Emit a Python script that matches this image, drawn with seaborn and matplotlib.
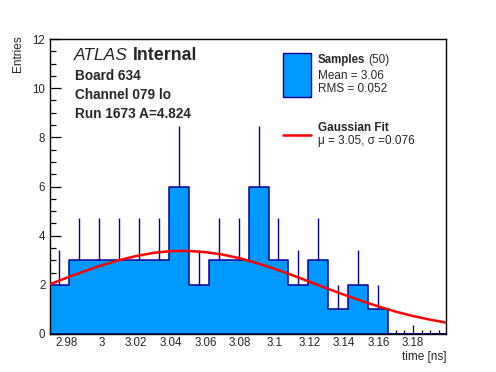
import numpy as np
import pandas as pd
import matplotlib
matplotlib.use("Agg")
import matplotlib.pyplot as plt
from matplotlib.patches import Rectangle
from matplotlib.lines import Line2D
from matplotlib.ticker import MultipleLocator, FormatStrFormatter
import seaborn as sns

# histogram: 20 bins between hist_lo and hist_hi
hist_lo, hist_hi = 2.97, 3.20
counts = [2, 3, 3, 3, 3, 3, 6, 2, 3, 3, 6, 3, 2, 3, 1, 2, 1, 0, 0, 0]

# gaussian fit curve
fit_x = [2.97, 2.98, 2.99, 3.00, 3.01, 3.02, 3.03, 3.04, 3.05, 3.06, 3.07, 3.08,
         3.09, 3.10, 3.11, 3.12, 3.13, 3.14, 3.15, 3.16, 3.17, 3.18, 3.19, 3.20]
fit_y = [2.02, 2.29, 2.55, 2.79, 3.00, 3.17, 3.30, 3.37, 3.38, 3.33, 3.23, 3.08,
         2.88, 2.65, 2.40, 2.13, 1.86, 1.60, 1.35, 1.12, 0.91, 0.73, 0.58, 0.45]

header = ["Board 634", "Channel 079 lo", "Run 1673 A=4.824"]
stats = ["Mean = 3.06", "RMS = 0.052"]
fit_label = "\u03bc = 3.05, \u03c3 =0.076"

FILL = "#0099ff"
EDGE = "#000099"
W, H = 496, 372

sns.set_style("white")
plt.rcParams['font.family'] = ['Liberation Sans', 'DejaVu Sans']

fig = plt.figure(figsize=(W / 100, H / 100), dpi=100)
ax = fig.add_axes([49.5 / W, 1 - 334 / H, (446 - 49.5) / W, (334 - 39) / H])

edges = np.linspace(hist_lo, hist_hi, len(counts) + 1)
df = pd.DataFrame({"t": 0.5 * (edges[:-1] + edges[1:]), "n": counts})

sns.histplot(data=df, x="t", weights="n", bins=edges.tolist(), element="step", fill=True,
             facecolor=FILL, edgecolor=EDGE, linewidth=1.1, alpha=1, ax=ax)

# error bars (upper part visible above the fill)
nz = df[df["n"] > 0]
ax.vlines(nz["t"], nz["n"], nz["n"] + np.sqrt(nz["n"]), color=EDGE, lw=1.0, zorder=3)

sns.lineplot(x=fit_x, y=fit_y, color="red", lw=1.8, ax=ax, zorder=4)

ax.set_xlim(hist_lo, hist_hi - 0.001)
ax.set_ylim(0, 12)
ax.set_xlabel("")
ax.set_ylabel("")
ax.xaxis.set_major_locator(MultipleLocator(0.02))
ax.xaxis.set_minor_locator(MultipleLocator(0.005))
ax.xaxis.set_major_formatter(plt.FuncFormatter(lambda v, _: f"{v:g}"))
ax.yaxis.set_major_locator(MultipleLocator(2))
ax.yaxis.set_minor_locator(MultipleLocator(0.5))
ax.yaxis.set_major_formatter(FormatStrFormatter("%d"))
ax.tick_params(which="both", direction="in", bottom=True, left=True, top=False, right=False,
               labelsize=8.3, color="black", width=0.9)
ax.tick_params(axis="x", which="major", length=6.5, pad=2.5)
ax.tick_params(axis="x", which="minor", length=3.2)
ax.tick_params(axis="y", which="major", length=8, pad=3)
ax.tick_params(axis="y", which="minor", length=4.5)
for s in ax.spines.values():
    s.set_color("black")
    s.set_linewidth(1.0)

def fx(px):
    return px / W

def fy(py):
    return 1 - py / H

renderer = fig.canvas.get_renderer()

def text_after(prev, gap_px, y, s, **kw):
    # place a text right after another one on the same line
    bb = prev.get_window_extent(renderer)
    return fig.text((bb.x1 + gap_px) / W, y, s, va="center", **kw)

# axis titles
fig.text(fx(18), fy(35), "Entries", rotation=90, ha="center", va="top", fontsize=8.5)
fig.text(fx(446), fy(357), "time [ns]", ha="right", va="center", fontsize=8.5)

# ATLAS label block
t_atlas = fig.text(fx(74), fy(55), "ATLAS", style="italic", fontsize=12.5, va="center")
text_after(t_atlas, 4.5, fy(55), "Internal", weight="bold", fontsize=12.8)
for i, line in enumerate(header):
    fig.text(fx(75), fy(76.5 + 18.5 * i), line, weight="bold", fontsize=9.8, va="center")

# legend
fig.add_artist(Rectangle((fx(283), fy(97)), 28 / W, 44 / H, transform=fig.transFigure,
                         facecolor=FILL, edgecolor=EDGE, lw=1.0))
t_samp = fig.text(fx(318), fy(60), "Samples", weight="bold", fontsize=8.3, va="center")
text_after(t_samp, 3, fy(60), "(50)", fontsize=8.5)
fig.text(fx(318), fy(76), stats[0], fontsize=8.5, va="center")
fig.text(fx(318), fy(89), stats[1], fontsize=8.5, va="center")
fig.add_artist(Line2D([fx(283), fx(311)], [fy(135), fy(135)], transform=fig.transFigure,
                      color="red", lw=1.8))
fig.text(fx(318), fy(128), "Gaussian Fit", weight="bold", fontsize=8.5, va="center")
fig.text(fx(318), fy(141), fit_label, fontsize=8.5, va="center")

fig.savefig("out.png", dpi=100, facecolor="white")
